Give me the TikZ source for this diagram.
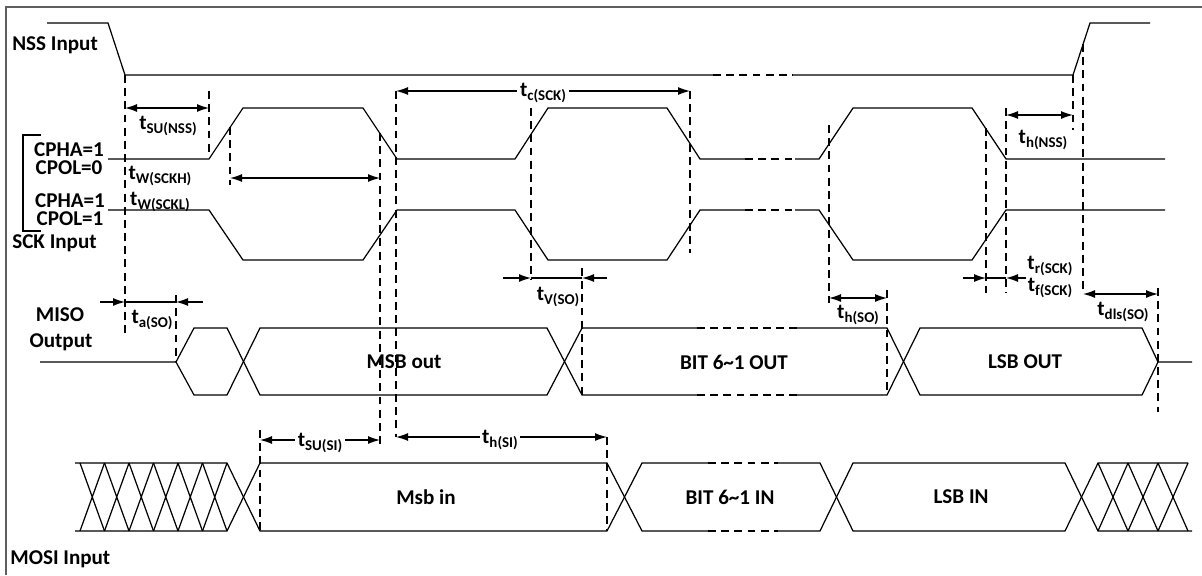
\documentclass[tikz,border=0pt]{standalone}
\usepackage{fontspec}
\setmainfont{Carlito}
\usetikzlibrary{arrows.meta}

% timing label: t with a lowered subscript
\newcommand{\tsub}[1]{t\raisebox{-0.4ex}{\fontsize{8.5}{9}\selectfont #1}}

\begin{document}
\begin{tikzpicture}[x=0.02cm, y=-0.02cm,
  sig/.style={line width=0.7pt, line join=miter},
  sigdash/.style={sig, dash pattern=on 4.5pt off 3pt},
  guide/.style={line width=0.7pt, dash pattern=on 4.5pt off 3pt},
  dim/.style={line width=0.7pt, {Latex[length=2.4mm,width=1.6mm]}-{Latex[length=2.4mm,width=1.6mm]}},
  tip/.style={line width=0.7pt, -{Latex[length=2.4mm,width=1.6mm]}},
  lbl/.style={font=\fontsize{12}{10.2}\selectfont\bfseries, inner sep=0pt, align=center},
  tlbl/.style={lbl, fill=white, inner sep=1.5pt}]
  % Colours
  \definecolor{framecolor}{RGB}{95,95,95}

  \useasboundingbox (0,0) rectangle (1202,575);
  \draw[framecolor, line width=1.2pt] (6,575) -- (6,7) -- (1202,7);

  % Signal names
  \node[lbl, anchor=west] (nss) at (12,45) {NSS Input};
  \node[lbl] (mode0) at (69,159) {CPHA=1\\CPOL=0};
  \node[lbl] (mode1) at (70,210) {CPHA=1\\CPOL=1};
  \node[lbl, anchor=west] (sck) at (12,243) {SCK Input};
  \node[lbl] (miso) at (60,315) {MISO};
  \node[lbl] (misoout) at (61,342) {Output};
  \node[lbl, anchor=west] (mosi) at (10,559) {MOSI Input};
  \draw[sig] (41,135) -- (23,135) -- (23,231) -- (41,231);

  % NSS
  \draw[sig] (47,23) -- (108,23) -- (125,75) -- (713,75);
  \draw[sigdash] (713,75) -- (793,75);
  \draw[sig] (793,75) -- (1073,75) -- (1090,23) -- (1150,23);

  % SCK, CPOL=0
  \draw[sig] (108,159) -- (209,159) -- (243,108) -- (363,108) -- (397,159) -- (515,159)
    -- (548,108) -- (667,108) -- (700,159) -- (745,159);
  \draw[sigdash] (745,159) -- (795,159);
  \draw[sig] (795,159) -- (819,159) -- (853,108) -- (972,108) -- (1006,159) -- (1165,159);

  % SCK, CPOL=1
  \draw[sig] (108,210) -- (209,210) -- (243,260) -- (363,260) -- (397,210) -- (515,210)
    -- (548,260) -- (667,260) -- (700,210) -- (745,210);
  \draw[sigdash] (745,210) -- (795,210);
  \draw[sig] (795,210) -- (819,210) -- (853,260) -- (972,260) -- (1006,210) -- (1165,210);

  % MISO
  \draw[sig] (40,362) -- (176,362) -- (194,328) -- (227,328) -- (260,395) -- (547,395)
    -- (582,328) -- (697,328);
  \draw[sig] (176,362) -- (194,395) -- (227,395) -- (260,328) -- (547,328)
    -- (582,395) -- (697,395);
  \draw[sigdash] (697,328) -- (797,328);
  \draw[sigdash] (697,395) -- (797,395);
  \draw[sig] (797,328) -- (887,328) -- (920,395) -- (1142,395) -- (1158,362) -- (1192,362);
  \draw[sig] (797,395) -- (887,395) -- (920,328) -- (1142,328) -- (1158,362);
  \node[lbl] (msbout) at (404,362) {MSB out};
  \node[lbl] (bitout) at (734,362) {BIT 6\textasciitilde 1 OUT};
  \node[lbl] (lsbout) at (1025,362) {LSB OUT};

  % MOSI
  \draw[sig] (75,463) -- (227,463) -- (260,531) -- (607,531) -- (642,463) -- (708,463);
  \draw[sig] (75,531) -- (227,531) -- (260,463) -- (607,463) -- (642,531) -- (708,531);
  \foreach \a/\b in {80/104.5,104.5/129,129/153.5,153.5/178,178/202.5,202.5/227}
    \draw[sig] (\a,463) -- (\b,531) (\a,531) -- (\b,463);
  \draw[sigdash] (708,463) -- (778,463);
  \draw[sigdash] (708,531) -- (778,531);
  \draw[sig] (778,463) -- (820,463) -- (853,531) -- (1065,531) -- (1098,463) -- (1188,463);
  \draw[sig] (778,531) -- (820,531) -- (853,463) -- (1065,463) -- (1098,531) -- (1192,531);
  \foreach \a/\b in {1098/1128,1128/1158,1158/1188}
    \draw[sig] (\a,463) -- (\b,531) (\a,531) -- (\b,463);
  \node[lbl] (msbin) at (426,497) {Msb in};
  \node[lbl] (bitin) at (730,497) {BIT 6\textasciitilde 1 IN};
  \node[lbl] (lsbin) at (961,497) {LSB IN};

  % Dashed time markers
  \draw[guide] (125,75) -- (125,337);
  \draw[guide] (209,91) -- (209,152);
  \draw[guide] (230,127) -- (230,185);
  \draw[guide] (380,133) -- (380,445);
  \draw[guide] (396,91) -- (396,437);
  \draw[guide] (531,108) -- (531,280);
  \draw[guide] (690,91) -- (690,253);
  \draw[guide] (582,268) -- (582,398);
  \draw[guide] (176,295) -- (176,362);
  \draw[guide] (829,125) -- (829,303);
  \draw[guide] (887,290) -- (887,395);
  \draw[guide] (986,128) -- (986,293);
  \draw[guide] (1006,108) -- (1006,293);
  \draw[guide] (1073,75) -- (1073,130);
  \draw[guide] (1083,44) -- (1083,293);
  \draw[guide] (1158,288) -- (1158,412);
  \draw[guide] (260,430) -- (260,531);
  \draw[guide] (607,437) -- (607,531);

  % Timing arrows
  \draw[dim] (125,108) -- (209,108);
  \node[lbl] (tsunss) at (168,126) {\tsub{SU(NSS)}};
  \node[lbl] (twsckh) at (160,176) {\tsub{W(SCKH)}};
  \draw[dim] (230,178) -- (380,178);
  \node[lbl] (twsckl) at (160,202) {\tsub{W(SCKL)}};
  \draw[dim] (396,91) -- (690,91);
  \node[tlbl] (tcsck) at (543,93) {\tsub{c(SCK)}};
  \draw[dim] (1006,115) -- (1073,115);
  \node[lbl] (thnss) at (1043,140) {\tsub{h(NSS)}};

  \draw[tip] (100,302) -- (125,302);
  \draw[line width=0.7pt] (125,302) -- (176,302);
  \draw[tip] (203,302) -- (176,302);
  \node[lbl] (taso) at (152,320) {\tsub{a(SO)}};

  \draw[tip] (503,278) -- (531,278);
  \draw[line width=0.7pt] (531,278) -- (582,278);
  \draw[tip] (607,278) -- (582,278);
  \node[lbl] (tvso) at (558,297) {\tsub{V(SO)}};

  \draw[tip] (963,278) -- (986,278);
  \draw[line width=0.7pt] (986,278) -- (1006,278);
  \draw[tip] (1026,278) -- (1006,278);
  \node[lbl] (trsck) at (1050,266) {\tsub{r(SCK)}};
  \node[lbl] (tfsck) at (1050,288) {\tsub{f(SCK)}};

  \draw[dim] (829,298) -- (887,298);
  \node[lbl] (thso) at (858,315) {\tsub{h(SO)}};
  \draw[dim] (1083,294) -- (1158,294);
  \node[lbl] (tdisso) at (1123,312) {\tsub{dls(SO)}};

  \draw[dim] (260,440) -- (380,440);
  \node[tlbl] (tsusi) at (320,443) {\tsub{SU(SI)}};
  \draw[dim] (396,437) -- (607,437);
  \node[tlbl] (thsi) at (500,440) {\tsub{h(SI)}};
\end{tikzpicture}
\end{document}
